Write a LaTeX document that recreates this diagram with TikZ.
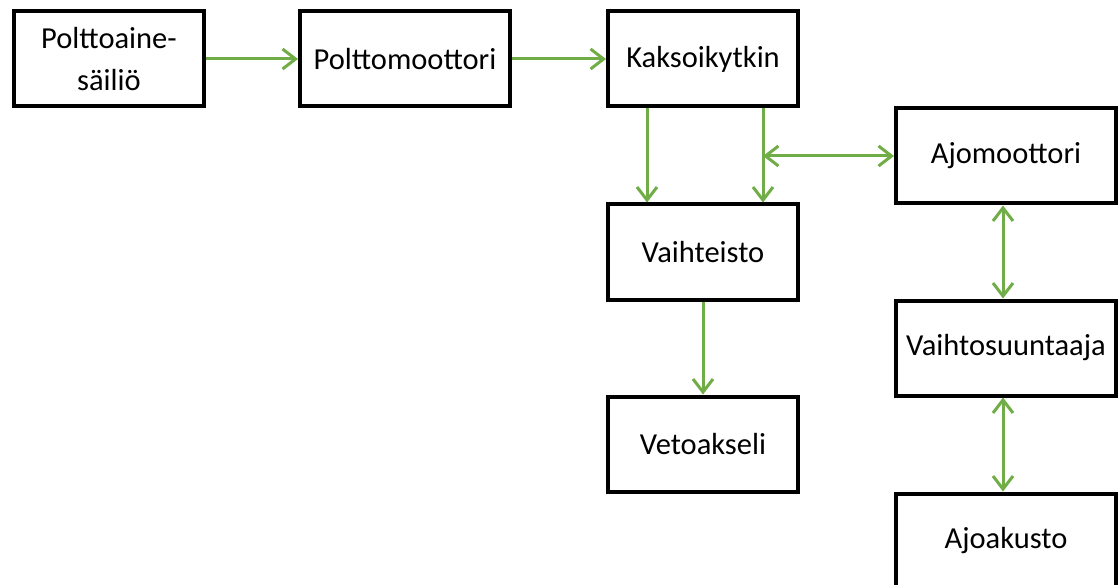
\documentclass[tikz,border=0pt]{standalone}
\usepackage{fontspec}
\setmainfont{Carlito}
\usetikzlibrary{arrows.meta}
\definecolor{flowgreen}{RGB}{112,173,71}
\tikzset{
  part/.style={draw=black,line width=4pt,fill=white,minimum height=95pt,inner sep=0pt,align=center,font=\fontsize{30.5}{42}\selectfont},
  barb/.tip={Straight Barb[length=13pt,width=20pt]},
  flow/.style={draw=flowgreen,line width=3pt,-barb},
  flowboth/.style={draw=flowgreen,line width=3pt,barb-barb},
}
\begin{document}
\begin{tikzpicture}[x=1pt,y=-1pt]
\path[use as bounding box] (0,0) rectangle (1118,585);
\clip (0,0) rectangle (1118,585);
\node[part,minimum width=190pt] (tank) at (109,59) {Polttoaine-\\säiliö};
\node[part,minimum width=210pt] (engine) at (405,59) {Polttomoottori};
\node[part,minimum width=190pt] (clutch) at (703,59) {Kaksoikytkin};
\node[part,minimum width=190pt] (gearbox) at (703,252) {Vaihteisto};
\node[part,minimum width=190pt] (axle) at (703,444) {Vetoakseli};
\node[part,minimum width=220pt] (motor) at (1006,156) {Ajomoottori};
\node[part,minimum width=220pt] (inverter) at (1006,348) {Vaihtosuuntaaja};
\node[part,minimum width=220pt] (battery) at (1006,541) {Ajoakusto};
\draw[flow] (tank) -- (engine);
\draw[flow] (engine) -- (clutch);
\draw[flow] ([xshift=-56pt]clutch.south) -- ([xshift=-56pt]gearbox.north);
\draw[flow] ([xshift=60pt]clutch.south) -- ([xshift=60pt]gearbox.north);
\coordinate (junction) at ([xshift=60pt]clutch.south |- motor.west);
\draw[flowboth] (junction) -- (motor.west);
\draw[flow] (gearbox) -- (axle);
\draw[flowboth] ([xshift=-3pt]motor.south) -- ([xshift=-3pt]inverter.north);
\draw[flowboth] ([xshift=-3pt]inverter.south) -- ([xshift=-3pt]battery.north);
\end{tikzpicture}
\end{document}
